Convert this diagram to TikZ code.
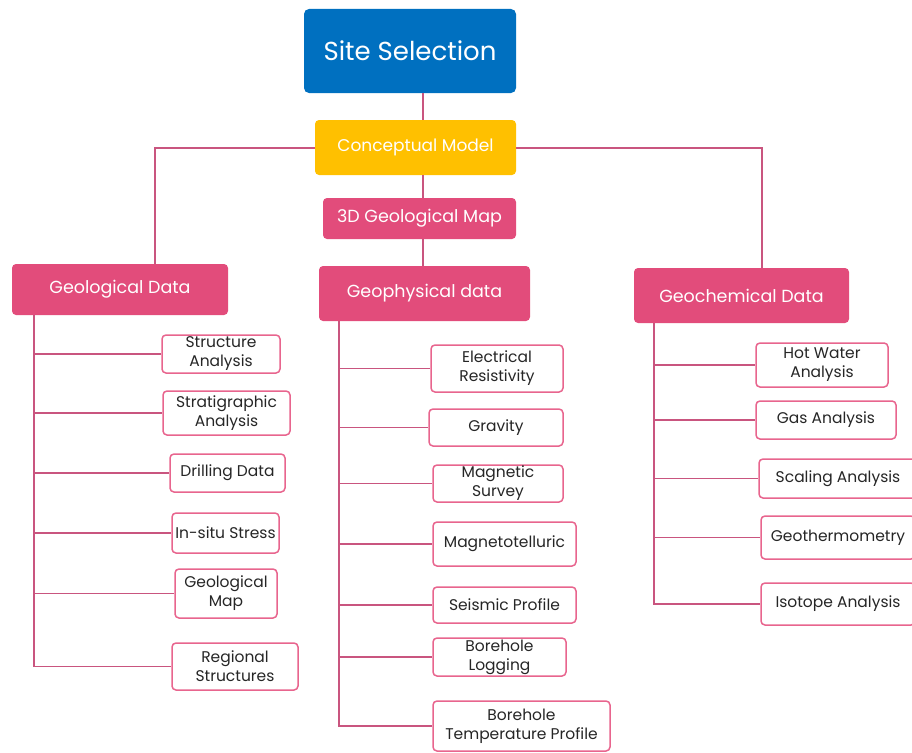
\documentclass[tikz,border=0pt]{standalone}
\usepackage{fontspec}
\setmainfont{Poppins}
\definecolor{siteblue}{HTML}{0070C0}
\definecolor{modelgold}{HTML}{FFC000}
\definecolor{datapink}{HTML}{E24C7B}
\definecolor{linkpink}{HTML}{C9557F}
\definecolor{boxpink}{HTML}{E8658E}
\begin{document}
\begin{tikzpicture}[x=1pt, y=-1pt,
    head/.style={rounded corners=4pt, fill=datapink, text=white, inner sep=0pt,
      font=\fontsize{17.5}{20}\selectfont},
    item/.style={draw=boxpink, line width=1.5pt, rounded corners=4pt, fill=white,
      text=black!85, align=center, inner sep=0pt, font=\fontsize{15.5}{19}\selectfont},
    link/.style={draw=linkpink, line width=2pt},
    branch/.style={draw=linkpink, line width=1.5pt}]
	\useasboundingbox (0,0) rectangle (912,752);
	% top of the tree
	\node[rounded corners=5pt, fill=siteblue, text=white, inner sep=0pt,
	  font=\fontsize{26}{30}\selectfont, minimum width=212pt, minimum height=84pt]
	  (site) at (410,51) {Site Selection};
	\node[rounded corners=4pt, fill=modelgold, text=white, inner sep=0pt,
	  font=\fontsize{17}{20}\selectfont, minimum width=201pt, minimum height=55pt]
	  (concept) at (415.5,147.5) {Conceptual Model};
	\node[head, minimum width=193pt, minimum height=41pt] (map3d) at (419.5,218.5) {3D Geological Map};
	% data groups
	\node[head, minimum width=216pt, minimum height=51pt] (geol) at (120,289.5) {Geological Data};
	\node[head, minimum width=211pt, minimum height=55pt] (geophys) at (424.5,293.5) {Geophysical data};
	\node[head, minimum width=215pt, minimum height=55pt] (geochem) at (741.5,295.5) {Geochemical Data};
	% geological items
	\node[item, minimum width=118pt, minimum height=38pt] (struct) at (221,354) {Structure\\Analysis};
	\node[item, minimum width=127pt, minimum height=44pt] (strat) at (226.5,413) {Stratigraphic\\Analysis};
	\node[item, minimum width=115pt, minimum height=38pt] (drill) at (227.5,473) {Drilling Data};
	\node[item, minimum width=107pt, minimum height=40pt] (stress) at (225.5,533) {In-situ Stress};
	\node[item, minimum width=102pt, minimum height=49pt] (gmap) at (226,593.5) {Geological\\Map};
	\node[item, minimum width=126pt, minimum height=47pt] (regional) at (235,666.5) {Regional\\Structures};
	% geophysical items
	\node[item, minimum width=132pt, minimum height=47pt] (resist) at (497,368.5) {Electrical\\Resistivity};
	\node[item, minimum width=134pt, minimum height=37pt] (gravity) at (496,427.5) {Gravity};
	\node[item, minimum width=130pt, minimum height=37pt] (magsurv) at (498,483.5) {Magnetic\\Survey};
	\node[item, minimum width=143pt, minimum height=44pt] (mt) at (504.5,544) {Magnetotelluric};
	\node[item, minimum width=143pt, minimum height=36pt] (seismic) at (504.5,605) {Seismic Profile};
	\node[item, minimum width=133pt, minimum height=38pt] (logging) at (499.5,657) {Borehole\\Logging};
	\node[item, minimum width=177pt, minimum height=50pt] (tempprof) at (521.5,726) {Borehole\\Temperature Profile};
	% geochemical items
	\node[item, minimum width=132pt, minimum height=44pt] (hotwater) at (822,365) {Hot Water\\Analysis};
	\node[item, minimum width=140pt, minimum height=38pt] (gas) at (826,420) {Gas Analysis};
	\node[item, minimum width=158pt, minimum height=39pt] (scaling) at (838,478.5) {Scaling Analysis};
	\node[item, minimum width=154pt, minimum height=43pt] (geotherm) at (838,537.5) {Geothermometry};
	\node[item, minimum width=154pt, minimum height=42pt] (isotope) at (838,604) {Isotope Analysis};
	% anchor points of the lines
	\coordinate (spine) at (423,0);
	\coordinate (geoltop) at (155,264);
	\coordinate (chemtop) at (762,268);
	\coordinate (geoltrunk) at (34,315);
	\coordinate (phystrunk) at (339,321);
	\coordinate (chemtrunk) at (654,323);
	% lines
	\draw[link] (site.south -| spine) -- (concept.north -| spine);
	\draw[link] (concept.south -| spine) -- (map3d.north -| spine);
	\draw[link] (map3d.south -| spine) -- (geophys.north -| spine);
	\draw[link] (concept.west) -| (geoltop);
	\draw[link] (concept.east) -| (chemtop);
	\foreach \c in {struct,strat,drill,stress,gmap,regional}
		\draw[branch] (geoltrunk) |- (\c.west);
	\foreach \c in {resist,gravity,magsurv,mt,seismic,logging,tempprof}
		\draw[branch] (phystrunk) |- (\c.west);
	\foreach \c in {hotwater,gas,scaling,geotherm,isotope}
		\draw[branch] (chemtrunk) |- (\c.west);
\end{tikzpicture}
\end{document}
